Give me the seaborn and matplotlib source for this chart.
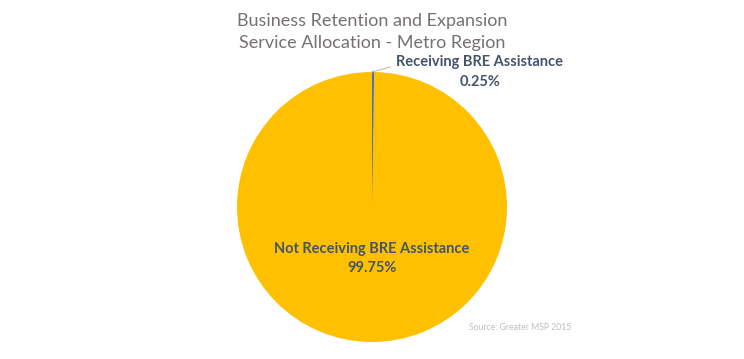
import matplotlib
matplotlib.use('Agg')
import matplotlib.pyplot as plt
import seaborn as sns

# data
labels = ['Receiving BRE Assistance', 'Not Receiving BRE Assistance']
shares = [0.25, 99.75]
colors = ['#4472C4', '#FFC000']
title = 'Business Retention and Expansion\nService Allocation - Metro Region'
source = 'Source: Greater MSP 2015'

sns.set_theme(style='white')
plt.rcParams['font.family'] = ['Lato', 'DejaVu Sans']

fig = plt.figure(figsize=(7.44, 3.59), dpi=100)
ax = fig.add_axes([237 / 744, 17 / 359, 270 / 744, 270 / 359])

wedges, _ = ax.pie(shares, colors=colors, startangle=90, counterclock=False,
                   radius=1, wedgeprops=dict(linewidth=0))
# make the thin slice visible as a line, like the original
wedges[0].set_edgecolor(colors[0])
wedges[0].set_linewidth(0.8)
ax.set_xlim(-1, 1)
ax.set_ylim(-1, 1)
ax.set_aspect('equal')
ax.axis('off')

label_color = '#44546A'
ax.annotate(f'{labels[0]}\n{shares[0]:.2f}%', xy=(0.0, 1.0), xytext=(0.8, 1.0),
            ha='center', va='center', fontsize=10.5, fontweight='bold',
            color=label_color, linespacing=1.5, annotation_clip=False,
            arrowprops=dict(arrowstyle='-', color='#BFBFBF', lw=0.8,
                            relpos=(0.0, 0.7), shrinkA=2, shrinkB=0))
ax.text(0.0, -0.38, f'{labels[1]}\n{shares[1]:.2f}%', ha='center', va='center',
        fontsize=10.5, fontweight='bold', color=label_color, linespacing=1.5)

fig.text(0.5, 0.912, title, ha='center', va='center', fontsize=13,
         color='#767171', linespacing=1.45)
fig.text(520 / 744, 31 / 359, source, ha='center', va='center',
         fontsize=6.2, color='#BFBFBF')

fig.savefig('out.png', dpi=100, facecolor='white')
